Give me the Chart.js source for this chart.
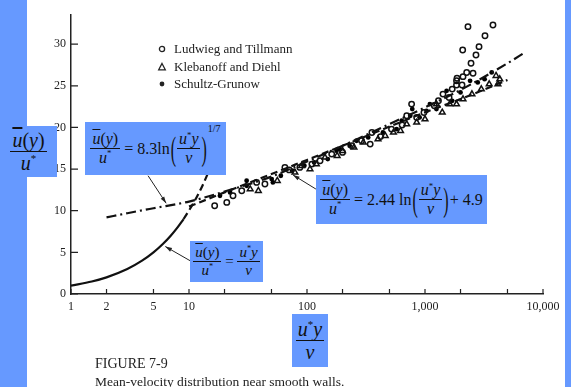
<!DOCTYPE html>
<html>
<head>
<meta charset="utf-8">
<script src="https://cdn.jsdelivr.net/npm/chart.js@4.4.0/dist/chart.umd.min.js"></script>
<style>
  html, body { margin: 0; padding: 0; }
  body { width: 571px; height: 387px; background: #6699ff; position: relative; overflow: hidden; }
  #panel { position: absolute; left: 27px; top: 0; width: 538px; height: 387px; background: #fff; }
  #chart { position: absolute; left: 0; top: 0; }
  .box { position: absolute; background: #6699ff; display: flex; align-items: center; justify-content: center;
         font-family: 'Liberation Serif', 'Times New Roman', serif; color: #111; white-space: nowrap; }
  .frac { display: inline-flex; flex-direction: column; align-items: center; vertical-align: middle; }
  .frac .num { border-bottom: 1.3px solid #111; padding: 0 2px; line-height: 1.1; }
  .frac .den { line-height: 1.15; }
  .ob { text-decoration: overline; }
  .st { font-size: 0.55em; position: relative; top: -0.7em; font-style: normal; }
  .paren { display: inline-block; transform: scaleY(2.1); margin: 0 1px; }
  .pow { font-size: 10px; position: relative; top: -20px; }
  .legend { position: absolute; left: 156px; font-family: 'Liberation Serif', serif; font-size: 13px; color: #222;
            display: flex; align-items: center; }
  .legend svg { margin-right: 6px; }
  .cap { position: absolute; left: 95px; font-family: 'Liberation Serif', serif; color: #222; white-space: nowrap; }
</style>
</head>
<body>
<div id="panel"></div>
<canvas id="chart" width="571" height="387"></canvas>

<div class="legend" style="top:41px"><svg width="12" height="12"><circle cx="6" cy="6" r="2.6" fill="none" stroke="#222" stroke-width="1.3"/></svg>Ludwieg and Tillmann</div>
<div class="legend" style="top:59px"><svg width="12" height="12"><polygon points="6,2.5 9.3,8.8 2.7,8.8" fill="none" stroke="#222" stroke-width="1.3"/></svg>Klebanoff and Diehl</div>
<div class="legend" style="top:76px"><svg width="12" height="12"><circle cx="6" cy="6" r="2.4" fill="#222"/></svg>Schultz-Grunow</div>

<div class="box" style="left:0;top:126px;width:57px;height:51px;font-size:20px">
  <span class="frac"><span class="num"><i class="ob">u</i>(<i>y</i>)</span><span class="den"><i>u</i><span class="st">*</span></span></span>
</div>

<div class="box" style="left:85px;top:122px;width:141px;height:53px;font-size:16px">
  <span class="frac"><span class="num"><i class="ob">u</i>(<i>y</i>)</span><span class="den"><i>u</i><span class="st">*</span></span></span>
  <span>&nbsp;= 8.3ln</span><span class="paren">(</span>
  <span class="frac"><span class="num"><i>u</i><span class="st">*</span><i>y</i></span><span class="den"><i>ν</i></span></span>
  <span class="paren">)</span><span class="pow">1/7</span>
</div>

<div class="box" style="left:316px;top:175px;width:171px;height:49px;font-size:16px">
  <span class="frac"><span class="num"><i class="ob">u</i>(<i>y</i>)</span><span class="den"><i>u</i><span class="st">*</span></span></span>
  <span>&nbsp;= 2.44 ln</span><span class="paren">(</span>
  <span class="frac"><span class="num"><i>u</i><span class="st">*</span><i>y</i></span><span class="den"><i>ν</i></span></span>
  <span class="paren">)</span><span>+ 4.9</span>
</div>

<div class="box" style="left:190px;top:241px;width:73px;height:41px;font-size:15px">
  <span class="frac"><span class="num"><i class="ob">u</i>(<i>y</i>)</span><span class="den"><i>u</i><span class="st">*</span></span></span>
  <span>&nbsp;=&nbsp;</span>
  <span class="frac"><span class="num"><i>u</i><span class="st">*</span><i>y</i></span><span class="den"><i>ν</i></span></span>
</div>

<div class="box" style="left:292px;top:314px;width:36px;height:53px;font-size:20px">
  <span class="frac"><span class="num"><i>u</i><span class="st">*</span><i>y</i></span><span class="den"><i>ν</i></span></span>
</div>

<div class="cap" style="top:356px;font-size:14px">FIGURE 7-9</div>
<div class="cap" style="top:374px;font-size:13.5px">Mean-velocity distribution near smooth walls.</div>

<script>
'use strict';

// tick values / labels
const xTickValues = [1, 2, 5, 10, 20, 50, 100, 200, 500, 1000, 2000, 5000, 10000];
const xTickLabels = ['1', '2', '5', '10', '', '', '100', '', '', '1,000', '', '', '10,000'];
const yTickValues = [0, 5, 10, 15, 20, 25, 30];

// Ludwieg and Tillmann (open circles)
const ltX = [16.5, 20.9, 23.6, 28, 37.4, 44, 65, 70.6, 87, 110, 129, 162, 200, 240, 290, 343, 355, 420, 520, 640, 700, 770,
  850, 980, 1200, 1300, 1420, 1600, 1700, 1850, 1850, 2060, 1868, 2099, 2256, 2553, 2455, 2704, 2870, 2086, 3224, 2313, 3767];
const ltY = [10.6, 11.0, 11.8, 12.4, 13.4, 13.2, 15.2, 14.9, 15.2, 15.6, 16.0, 16.8, 17.0, 17.8, 18.4, 18.0, 19.4, 18.9, 19.8, 20.3, 21.4, 22.8,
  21.2, 21.8, 22.6, 23.2, 24.0, 23.6, 24.6, 25.6, 25.1, 25.1, 25.9, 26.1, 26.6, 26.5, 27.7, 28.7, 29.7, 29.3, 31.0, 32.1, 32.3];

// Klebanoff and Diehl (open triangles)
const kdX = [33, 38.7, 56, 79, 90, 106, 120, 142, 180, 200, 250, 300, 400, 460, 540, 620, 700, 850, 1000, 1250,
  1400, 1620, 1850, 2100, 2500, 3000, 3500, 4000, 4150, 4300];
const kdY = [12.6, 12.4, 13.6, 14.6, 15.4, 15.0, 15.6, 16.4, 16.6, 17.2, 17.6, 18.2, 18.6, 19.0, 19.4, 19.6, 20.4, 20.6, 21.0, 22.8,
  21.8, 22.8, 22.8, 23.4, 24.0, 24.6, 25.2, 26.2, 25.2, 25.8];

// Schultz-Grunow (filled dots)
const sgX = [18.3, 22.3, 30.8, 30.8, 50.2, 51.4, 60, 75, 95, 115, 150, 178, 190, 230, 263, 330, 440, 575, 635, 750,
  780, 900, 1030, 1100, 1250, 1525, 1700, 2000, 2410, 2800, 3200, 3675];
const sgY = [11.8, 12.2, 13.6, 13.0, 13.8, 13.4, 14.2, 14.8, 15.4, 15.8, 16.2, 17.2, 17.4, 17.8, 18.4, 18.8, 19.4, 19.8, 20.8, 21.4,
  22.2, 21.2, 22.0, 22.8, 22.2, 24.4, 23.2, 24.2, 25.6, 25.4, 25.8, 26.6];

// curves
const linX = [1, 1.5, 2, 3, 4, 5, 6, 7, 8, 9];          // solid  u = y
const linY = [1, 1.5, 2, 3, 4, 5, 6, 7, 8, 9];
const linExtX = [9, 11, 13, 15.5];                    // dashed extension
const linExtY = [9, 11, 13, 15.5];
const powX = [2, 3, 5, 10, 20, 50, 100, 200, 500, 1000, 2000, 5000, 7000];   // dash-dot, 1/7 law
const powY = [9.2, 9.7, 10.3, 11.1, 12.3, 14.1, 15.9, 17.8, 20.4, 22.4, 24.5, 27.7, 29.0];
const logX = [10, 20, 50, 100, 200, 500, 1000, 2000, 5000];    // dashed, log law
const logY = [10.5, 12.2, 14.4, 16.1, 17.8, 20.1, 21.8, 23.4, 25.7];

// leader arrows: [fromX, fromY, toX, toY] in data units
const arrowLines = [
  [4.5, 14.2, 6.4, 10.9],
  [10.5, 3.9, 6.3, 5.7],
  [119, 12.6, 76, 14.3]
];

const toPoints = (xs, ys) => xs.map((x, i) => ({ x: x, y: ys[i] }));

const curve = (xs, ys, dash) => ({
  data: toPoints(xs, ys),
  showLine: true,
  borderColor: '#111',
  borderWidth: 2.2,
  borderDash: dash,
  pointRadius: 0,
  cubicInterpolationMode: 'monotone'
});

const innerTicks = {
  id: 'innerTicks',
  afterDraw: chart => {
    const { ctx, chartArea, scales } = chart;
    ctx.save();
    ctx.strokeStyle = '#222';
    ctx.lineWidth = 1.2;
    ctx.beginPath();
    yTickValues.forEach(v => {
      const y = scales.y.getPixelForValue(v);
      ctx.moveTo(chartArea.left, y);
      ctx.lineTo(chartArea.left + 7, y);
    });
    xTickValues.forEach(v => {
      const x = scales.x.getPixelForValue(v);
      ctx.moveTo(x, chartArea.bottom);
      ctx.lineTo(x, chartArea.bottom - 5);
    });
    ctx.stroke();

    // leader arrows
    ctx.lineWidth = 1;
    ctx.fillStyle = '#222';
    arrowLines.forEach(a => {
      const x1 = scales.x.getPixelForValue(a[0]), y1 = scales.y.getPixelForValue(a[1]);
      const x2 = scales.x.getPixelForValue(a[2]), y2 = scales.y.getPixelForValue(a[3]);
      const ang = Math.atan2(y2 - y1, x2 - x1);
      ctx.beginPath();
      ctx.moveTo(x1, y1);
      ctx.lineTo(x2, y2);
      ctx.stroke();
      ctx.beginPath();
      ctx.moveTo(x2, y2);
      ctx.lineTo(x2 - 7 * Math.cos(ang - 0.3), y2 - 7 * Math.sin(ang - 0.3));
      ctx.lineTo(x2 - 7 * Math.cos(ang + 0.3), y2 - 7 * Math.sin(ang + 0.3));
      ctx.closePath();
      ctx.fill();
    });
    ctx.restore();
  }
};

const tickFont = { family: 'Liberation Serif', size: 12 };

new Chart(document.getElementById('chart').getContext('2d'), {
  type: 'scatter',
  data: {
    datasets: [
      curve(linX, linY, []),
      curve(linExtX, linExtY, [7, 4]),
      curve(powX, powY, [10, 4, 2, 4]),
      curve(logX, logY, [7, 4]),
      {
        data: toPoints(ltX, ltY), pointStyle: 'circle', pointRadius: 2.7,
        borderColor: '#111', borderWidth: 1.5, backgroundColor: 'rgba(255,255,255,0)'
      },
      {
        data: toPoints(kdX, kdY), pointStyle: 'triangle', pointRadius: 3.3,
        borderColor: '#111', borderWidth: 1.5, backgroundColor: 'rgba(255,255,255,0)'
      },
      {
        data: toPoints(sgX, sgY), pointStyle: 'circle', pointRadius: 2.4,
        borderColor: '#000', borderWidth: 0, backgroundColor: '#000'
      }
    ]
  },
  options: {
    responsive: false,
    animation: false,
    layout: { padding: { left: 31, top: 15, right: 28, bottom: 63 } },
    plugins: { legend: { display: false }, tooltip: { enabled: false } },
    scales: {
      x: {
        type: 'logarithmic', min: 1, max: 10000,
        grid: { display: false, drawTicks: false },
        border: { display: true, color: '#222', width: 1.5 },
        afterBuildTicks: s => { s.ticks = xTickValues.map(v => ({ value: v })); },
        afterFit: s => { s.height = 30; },
        ticks: {
          autoSkip: false, maxRotation: 0, padding: 6, color: '#222', font: tickFont,
          callback: (v, i) => xTickLabels[i]
        }
      },
      y: {
        min: 0, max: 33.5,
        grid: { display: false, drawTicks: false },
        border: { display: true, color: '#222', width: 1.5 },
        afterBuildTicks: s => { s.ticks = yTickValues.map(v => ({ value: v })); },
        afterFit: s => { s.width = 40; },
        ticks: { padding: 5, color: '#222', font: tickFont }
      }
    }
  },
  plugins: [innerTicks]
});
</script>
</body>
</html>
